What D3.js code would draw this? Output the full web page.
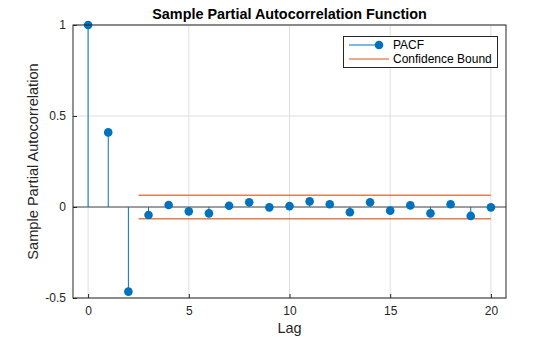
<!DOCTYPE html>
<html><head><meta charset="utf-8">
<script src="https://cdn.jsdelivr.net/npm/d3@7"></script>
<style>body{margin:0;background:#fff}svg{display:block;font-family:"Liberation Sans",Arial,sans-serif}</style>
</head><body><svg id="c" width="560" height="337"></svg>
<script>
const lags = d3.range(0, 21);
const pacf = [1, 0.41, -0.465, -0.044, 0.011, -0.024, -0.035, 0.007, 0.026, -0.002, 0.005,
              0.031, 0.015, -0.029, 0.026, -0.020, 0.009, -0.035, 0.015, -0.049, -0.002];
const bound = 0.064;
const boundStart = 2.5, boundEnd = 20;
const xTicks = [0, 5, 10, 15, 20];
const yTicks = [-0.5, 0, 0.5, 1];
const yTickLabels = ["-0.5", "0", "0.5", "1"];

const svg = d3.select("#c");
const L = 73, R = 506, T = 25, B = 298;
const x = d3.scaleLinear().domain([-0.75, 20.75]).range([L, R]);
const y = d3.scaleLinear().domain([-0.5, 1]).range([B, T]);
const blue = "#0072BD", orange = "#D95319", axc = "#262626";

// grid
const g = svg.append("g");
g.selectAll("line.gx").data(xTicks).join("line")
  .attr("x1", d => x(d)).attr("x2", d => x(d)).attr("y1", T).attr("y2", B)
  .attr("stroke", "#dfdfdf").attr("stroke-width", 1);
g.selectAll("line.gy").data(yTicks).join("line")
  .attr("y1", d => y(d)).attr("y2", d => y(d)).attr("x1", L).attr("x2", R)
  .attr("stroke", "#dfdfdf").attr("stroke-width", 1);

// zero line
svg.append("line").attr("x1", L).attr("x2", R).attr("y1", y(0)).attr("y2", y(0))
  .attr("stroke", "#4d4d4d").attr("stroke-width", 1);

// bounds
[bound, -bound].forEach(b => {
  svg.append("line").attr("x1", x(boundStart)).attr("x2", x(boundEnd))
    .attr("y1", y(b)).attr("y2", y(b))
    .attr("stroke", orange).attr("stroke-opacity", 0.75).attr("stroke-width", 1.5);
});

// stems
svg.selectAll("line.stem").data(lags).join("line")
  .attr("x1", d => x(d)).attr("x2", d => x(d))
  .attr("y1", y(0)).attr("y2", d => y(pacf[d]))
  .attr("stroke", blue).attr("stroke-width", 1);
svg.selectAll("circle.m").data(lags).join("circle")
  .attr("cx", d => x(d)).attr("cy", d => y(pacf[d])).attr("r", 4.3)
  .attr("fill", blue);

// axes
const xa = svg.append("g").attr("transform", `translate(0,${B})`)
  .call(d3.axisBottom(x).tickValues(xTicks).tickSize(-4).tickPadding(8).tickFormat(d3.format("d")));
const ya = svg.append("g").attr("transform", `translate(${L},0)`)
  .call(d3.axisLeft(y).tickValues(yTicks).tickSize(-4).tickPadding(7).tickFormat((d, i) => yTickLabels[i]));
[xa, ya].forEach(a => {
  a.select(".domain").remove();
  a.selectAll("line").attr("stroke", axc);
  a.selectAll("text").attr("fill", axc).style("font-size", "12px").style("font-family", '"Liberation Sans",Arial,sans-serif');
});
svg.append("rect").attr("x", L).attr("y", T).attr("width", R - L).attr("height", B - T)
  .attr("fill", "none").attr("stroke", axc).attr("stroke-width", 1);

// title & labels
svg.append("text").attr("x", (L + R) / 2).attr("y", 19).attr("text-anchor", "middle")
  .attr("font-weight", "bold").attr("font-size", 14.4).attr("fill", "#000").text("Sample Partial Autocorrelation Function");
svg.append("text").attr("x", (L + R) / 2).attr("y", 333).attr("text-anchor", "middle")
  .attr("font-size", 14.5).attr("fill", axc).text("Lag");
svg.append("text").attr("transform", `translate(38,${(T + B) / 2}) rotate(-90)`).attr("text-anchor", "middle")
  .attr("font-size", 14.6).attr("fill", axc).text("Sample Partial Autocorrelation");

// legend
const lg = svg.append("g");
lg.append("rect").attr("x", 343.5).attr("y", 36.5).attr("width", 154).attr("height", 31)
  .attr("fill", "#fff").attr("stroke", axc).attr("stroke-width", 1);
lg.append("line").attr("x1", 349).attr("x2", 379).attr("y1", 45).attr("y2", 45).attr("stroke", blue);
lg.append("circle").attr("cx", 379).attr("cy", 45).attr("r", 4.3).attr("fill", blue);
lg.append("line").attr("x1", 349).attr("x2", 389).attr("y1", 59).attr("y2", 59).attr("stroke", orange);
lg.append("text").attr("x", 393).attr("y", 49).attr("font-size", 12).attr("fill", "#000").text("PACF");
lg.append("text").attr("x", 393).attr("y", 63).attr("font-size", 12).attr("fill", "#000").text("Confidence Bound");
</script></body></html>
